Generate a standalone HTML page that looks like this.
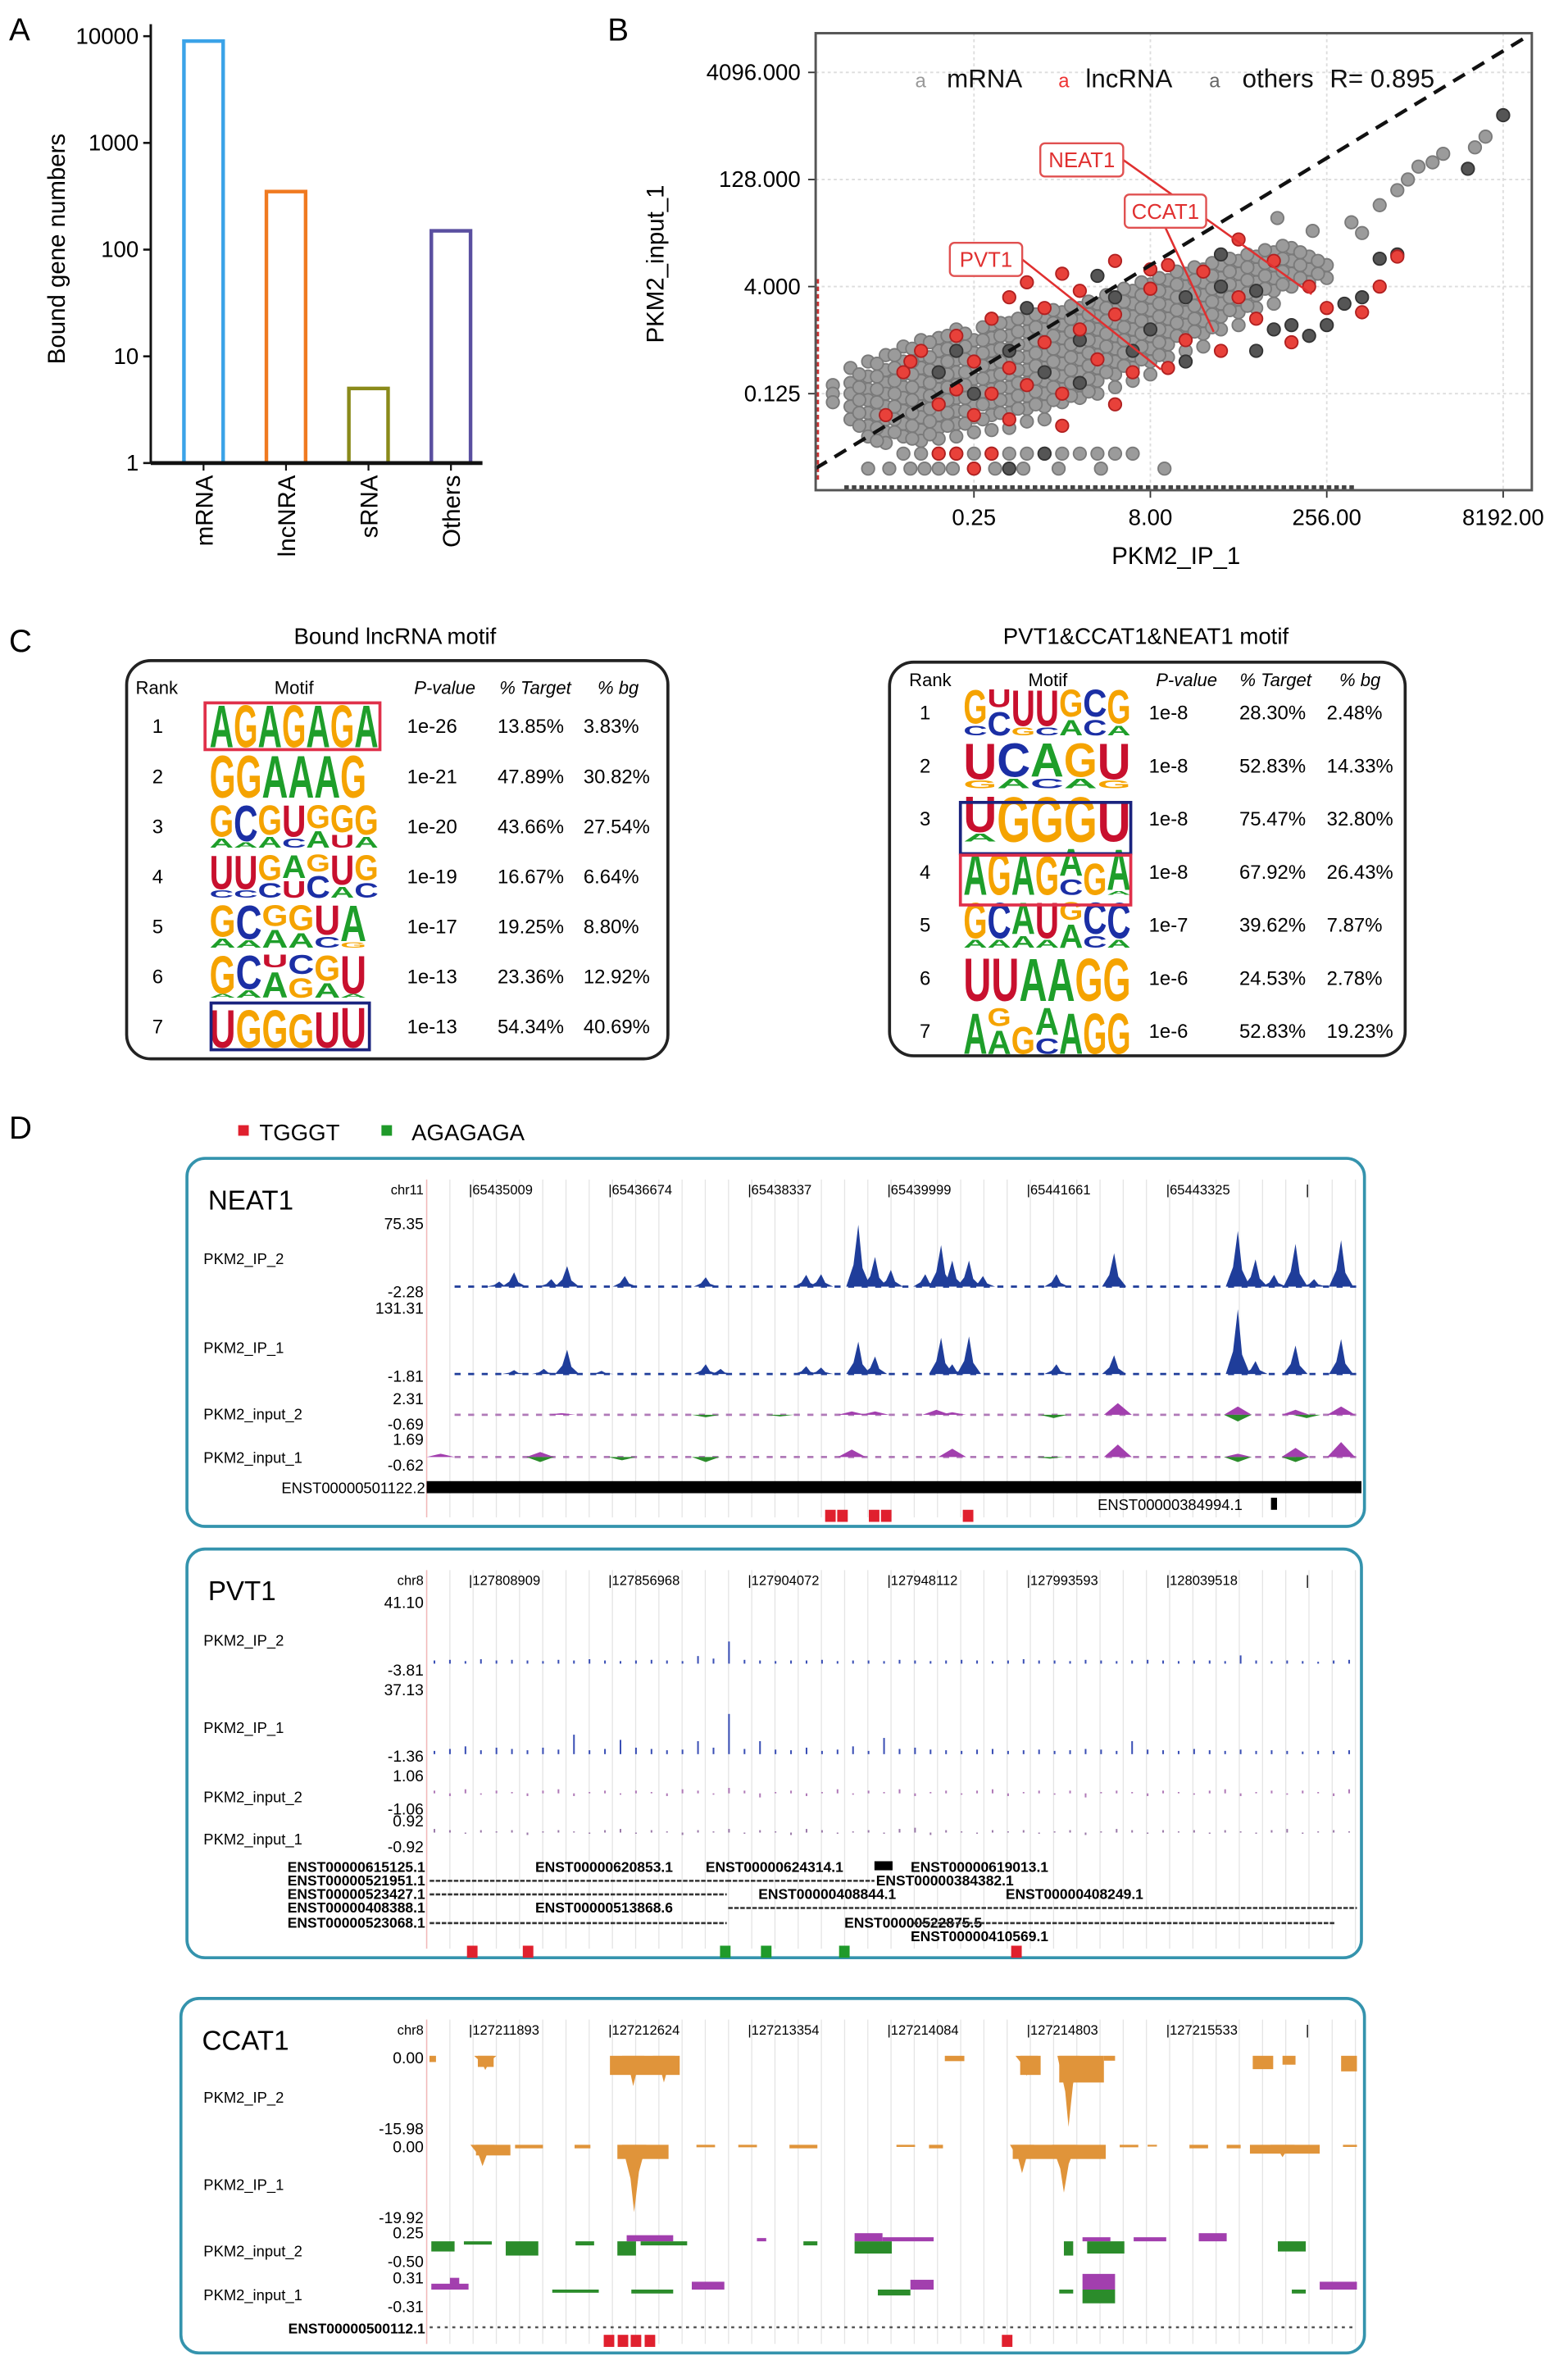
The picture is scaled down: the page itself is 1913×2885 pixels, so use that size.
<!DOCTYPE html>
<html><head><meta charset="utf-8">
<style>
html,body{margin:0;padding:0;background:#fff;}
svg{display:block;}
text{font-family:"Liberation Sans",sans-serif;}
.n{font-family:"Liberation Sans Narrow","Liberation Sans",sans-serif;}
</style></head>
<body>
<svg id="fig" xmlns="http://www.w3.org/2000/svg" width="1913" height="2885" viewBox="0 0 1040 1568" preserveAspectRatio="none">
<rect x="0" y="0" width="1040" height="1568" fill="#fff"/>
<text x="6" y="27" font-size="21">A</text>
<text x="403" y="27" font-size="21">B</text>
<text x="6" y="432" font-size="21">C</text>
<text x="6" y="755" font-size="21">D</text>

<g id="panelA">
<text transform="translate(43,165) rotate(-90)" text-anchor="middle" font-size="16">Bound gene numbers</text>
</g>

<g id="panelB">
<text transform="translate(440,175) rotate(-90)" text-anchor="middle" font-size="16">PKM2_input_1</text>
<text x="780" y="374" text-anchor="middle" font-size="16" class="n">PKM2_IP_1</text>
</g>

<g id="panelC">
<text x="262" y="427" text-anchor="middle" font-size="15" class="n">Bound lncRNA motif</text>
<text x="760" y="427" text-anchor="middle" font-size="15" class="n">PVT1&amp;CCAT1&amp;NEAT1 motif</text>
<rect x="84" y="438" width="359" height="264" rx="16" fill="none" stroke="#222" stroke-width="2"/>
<rect x="590" y="439" width="342" height="261" rx="16" fill="none" stroke="#222" stroke-width="2"/>
<g font-size="12" class="n">
<text x="104" y="460" text-anchor="middle">Rank</text>
<text x="195" y="460" text-anchor="middle">Motif</text>
<text x="295" y="460" text-anchor="middle" font-style="italic">P-value</text>
<text x="355" y="460" text-anchor="middle" font-style="italic">% Target</text>
<text x="410" y="460" text-anchor="middle" font-style="italic">% bg</text>
</g>
<g font-size="12" class="n">
<text x="617" y="455" text-anchor="middle">Rank</text>
<text x="695" y="455" text-anchor="middle">Motif</text>
<text x="787" y="455" text-anchor="middle" font-style="italic">P-value</text>
<text x="846" y="455" text-anchor="middle" font-style="italic">% Target</text>
<text x="902" y="455" text-anchor="middle" font-style="italic">% bg</text>
</g>
</g>

<g>
<rect x="158" y="746" width="7" height="7" fill="#e0202e"/>
<text x="172" y="756" font-size="15">TGGGT</text>
<rect x="253" y="746" width="7" height="7" fill="#1f9a2a"/>
<text x="273" y="756" font-size="15">AGAGAGA</text>
</g>
<g id="panelD"></g>
</svg>

<script>
const NS='http://www.w3.org/2000/svg';
const svg=document.getElementById('fig');
function el(tag,attrs,parent){const e=document.createElementNS(NS,tag);for(const k in attrs)e.setAttribute(k,attrs[k]);(parent||svg).appendChild(e);return e;}

/* ================= Panel A data ================= */
const barCats=['mRNA','lncNRA','sRNA','Others'];
const barVals=[9000,350,5,150];
const barColors=['#3ba3e8','#f07a20','#8a8a1a','#5a4fa0'];
const yTicksA=[1,10,100,1000,10000];
const yTickLabelsA=['1','10','100','1000','10000'];

/* ================= Panel B data (log2 values) ================= */
const xTicksB=[0.25,8,256,8192];
const xTickLabelsB=['0.25','8.00','256.00','8192.00'];
const yTicksB=[0.125,4,128,4096];
const yTickLabelsB=['0.125','4.000','128.000','4096.000'];
const grayCols=[
[-6.0,[-2.6,-3.0,-3.4]],
[-5.5,[-1.8,-2.5,-3.0,-3.6,-4.2]],
[-5.0,[-1.5,-2.2,-2.8,-3.3,-3.9,-4.5,-5.0]],
[-4.5,[-1.2,-1.9,-2.5,-3.0,-3.6,-4.2,-4.8,-5.3]],
[-4.0,[-0.8,-1.5,-2.1,-2.7,-3.2,-3.8,-4.4,-5.0]],
[-3.5,[-0.5,-1.2,-1.8,-2.4,-3.0,-3.6,-4.1,-4.7,-5.2]],
[-3.0,[-0.4,-1.0,-1.6,-2.2,-2.8,-3.4,-4.0,-4.6,-5.1]],
[-2.5,[0.0,-0.7,-1.4,-2.0,-2.6,-3.2,-3.8,-4.4,-5.0]],
[-2.0,[-0.5,-1.1,-1.7,-2.3,-2.9,-3.5,-4.1,-4.8]],
[-1.5,[0.2,-0.4,-1.0,-1.6,-2.2,-2.8,-3.4,-4.0,-4.7]],
[-1.0,[0.3,-0.3,-0.9,-1.5,-2.1,-2.7,-3.3,-3.9,-4.6]],
[-0.5,[0.5,-0.1,-0.7,-1.3,-1.9,-2.5,-3.1,-3.7,-4.3]],
[0.0,[0.6,0.0,-0.6,-1.2,-1.8,-2.4,-3.0,-3.6,-4.2]],
[0.5,[0.8,0.2,-0.4,-1.0,-1.6,-2.2,-2.8,-3.4]],
[1.0,[1.0,0.4,-0.2,-0.8,-1.4,-2.0,-2.6,-3.2]],
[1.5,[1.2,0.6,0.0,-0.6,-1.2,-1.8,-2.4,-3.0]],
[2.0,[1.5,0.9,0.3,-0.3,-0.9,-1.5,-2.1,-2.7]],
[2.5,[1.8,1.2,0.6,0.0,-0.6,-1.2,-1.8,-2.4]],
[3.0,[2.1,1.5,0.9,0.3,-0.3,-0.9,-1.5,-2.1]],
[3.5,[2.3,1.7,1.1,0.5,-0.1,-0.7,-1.3]],
[4.0,[2.6,2.0,1.4,0.8,0.2,-0.4,-1.0]],
[4.5,[2.8,2.2,1.6,1.0,0.4,-0.2,-0.8]],
[5.0,[3.0,2.4,1.8,1.2,0.6,0.0]],
[5.5,[3.2,2.6,2.0,1.4,0.8,0.2]],
[6.0,[3.4,2.8,2.2,1.6,1.0]],
[6.5,[3.6,3.0,2.4,1.8,1.2]],
[7.0,[3.8,3.2,2.6,2.0]],
[7.5,[3.4,2.8,2.2]],
[8.0,[3.0,2.4]]
];
const grayCols2=[
[-5.25,[-2.1,-2.7,-3.3,-3.9,-4.5]],
[-4.75,[-1.6,-2.2,-2.8,-3.4,-4.0,-4.6,-5.2]],
[-4.25,[-1.2,-1.8,-2.4,-3.0,-3.6,-4.2,-4.8]],
[-3.75,[-0.9,-1.5,-2.1,-2.7,-3.3,-3.9,-4.5,-5.1]],
[-3.25,[-0.6,-1.3,-1.9,-2.5,-3.1,-3.7,-4.3,-4.9]],
[-2.75,[-0.3,-0.9,-1.5,-2.1,-2.7,-3.3,-3.9,-4.5]],
[-2.25,[-0.2,-0.8,-1.4,-2.0,-2.6,-3.2,-3.8,-4.4]],
[-1.75,[0.1,-0.5,-1.1,-1.7,-2.3,-2.9,-3.5,-4.2]],
[-1.25,[0.3,-0.3,-0.9,-1.5,-2.1,-2.7,-3.3,-3.9]],
[-0.75,[0.5,-0.1,-0.7,-1.3,-1.9,-2.5,-3.1,-3.7]],
[-0.25,[0.7,0.1,-0.5,-1.1,-1.7,-2.3,-2.9,-3.5]],
[0.25,[0.9,0.3,-0.3,-0.9,-1.5,-2.1,-2.7,-3.3]],
[0.75,[1.1,0.5,-0.1,-0.7,-1.3,-1.9,-2.5,-3.1]],
[1.25,[1.3,0.7,0.1,-0.5,-1.1,-1.7,-2.3,-2.9]],
[1.75,[1.6,1.0,0.4,-0.2,-0.8,-1.4,-2.0]],
[2.25,[1.9,1.3,0.7,0.1,-0.5,-1.1,-1.7]],
[2.75,[2.2,1.6,1.0,0.4,-0.2,-0.8,-1.4]],
[3.25,[2.4,1.8,1.2,0.6,0.0,-0.6,-1.2]],
[3.75,[2.7,2.1,1.5,0.9,0.3,-0.3]],
[4.25,[2.9,2.3,1.7,1.1,0.5,-0.1]],
[4.75,[3.1,2.5,1.9,1.3,0.7,0.1]],
[5.25,[3.3,2.7,2.1,1.5,0.9]],
[5.75,[3.5,2.9,2.3,1.7,1.1]],
[6.25,[3.7,3.1,2.5,1.9]],
[6.75,[3.9,3.3,2.7,2.1]],
[7.25,[3.6,3.0,2.4]],
[7.75,[3.2,2.6]]
];
const grayRowLow=[-4,-3.5,-3,-2.5,-2,-1.5,-1,-0.5,0,0.5,1,1.5,2,2.5];
const grayRowLowest=[-5,-4.4,-3.8,-3.4,-3,-2.6,-2,-1.4,-0.6,0.4,1.6,3.4];
const grayOutX=[9.5,10,10.3,10.6,11,11.3,12.2,12.5,9,8.7,7.6,6.6];
const grayOutY=[5.8,6.5,7,7.6,7.8,8.2,8.5,9,4.5,5,4.6,5.2];
const redX=[-4,-3.5,-3,-2.5,-2.5,-2,-2,-1.5,-1.5,-1,-1,-0.5,-0.5,0,0,0.5,0.5,1,1,1.5,2,2,2.5,3,3.5,3.5,4,4.5,5,5.5,6,6.5,7,8,9,9.5,10,-3,-2.5,-2,-1.5,-4.5,-3.8,0.5,2,-1,3,5.5,7.5];
const redY=[-2,-1,-3.5,-0.3,-2.8,-1.5,-4,0.5,-3,1.5,-1.8,2.2,-2.6,1.0,-0.6,2.6,-3,0,1.8,-1.4,3.2,0.7,-2,1.9,3.0,-1.8,-0.5,2.7,-1.0,1.5,0.5,3.2,-0.6,1.0,0.8,2.0,3.4,-5.8,-5.8,-6.5,-5.8,-4,-1.5,-4.5,-3.5,-4.2,2.8,4.2,2];
const darkX=[-3,-2,-1,0,1,2,3,4,5,6,7,7.5,8,8.5,9,9.5,10,12,13,1.5,-2.5,-0.5,2.5,4,6,5,6.5,-1,0,1];
const darkY=[-2,-3,-1,-2,-0.5,1.5,0,1.5,2,1.8,0.2,-0.3,0.2,1.2,1.5,3.3,3.5,7.5,10,2.5,-1,1,-1,-1.5,-1,3.5,0,-6.5,-5.8,-2.5];

/* ================= Panel C data ================= */
const leftMotifs=['AGAGAGA','GGAAAG','GCGUGGG','UUGAGUG','GCGGUA','GCUCGU','UGGGUU'];
const leftSecond=['.......','......','AAACAUA','CCCUCAC','AAAACG','AAAGAA','......'];
const leftHeights=[[1,1,1,1,1,1,1],[1,1,1,1,1,1],[.75,.85,.7,.75,.55,.65,.7],[.8,.8,.6,.55,.4,.7,.6],[.75,.8,.5,.6,.7,.85],[.9,.8,.3,.45,.6,.9],[.9,.9,.9,.8,.85,.95]];
const leftP=['1e-26','1e-21','1e-20','1e-19','1e-17','1e-13','1e-13'];
const leftTarget=['13.85%','47.89%','43.66%','16.67%','19.25%','23.36%','54.34%'];
const leftBg=['3.83%','30.82%','27.54%','6.64%','8.80%','12.92%','40.69%'];
const rightMotifs=['GUUUGCG','UCAGU','UGGGU','AGAGAGA','GCAUGCC','UUAAGG','AGGAAGG'];
const rightSecond=['CCGCACA','GACAG','A....','....C.A','AAAAACA','......','.A.C...'];
const rightHeights=[[.75,.4,.8,.8,.6,.6,.75],[.8,.75,.75,.75,.8],[.8,1,1,1,.9],[.95,.95,.9,.85,.6,.7,.9],[.8,.8,.7,.8,.4,.7,.8],[.95,.95,.95,.95,.95,.95],[.9,.4,.6,.6,.9,.9,.9]];
const rightP=['1e-8','1e-8','1e-8','1e-8','1e-7','1e-6','1e-6'];
const rightTarget=['28.30%','52.83%','75.47%','67.92%','39.62%','24.53%','52.83%'];
const rightBg=['2.48%','14.33%','32.80%','26.43%','7.87%','2.78%','19.23%'];

/* ================= Panel D data ================= */
const neatIP2Pos=[7.8,9.4,13.4,15.1,21.3,30.0,40.8,42.4,46.4,48.2,49.9,53.6,55.3,56.5,58.3,59.8,67.7,73.9,87.2,89.1,91.1,93.4,95.4,98.3];
const neatIP2H=[.08,.23,.12,.33,.17,.15,.19,.2,1.0,.48,.27,.2,.67,.42,.42,.17,.2,.54,.9,.44,.19,.69,.12,.75];
const neatIP1Pos=[9.4,12.6,15.1,18.8,30,31.6,40.8,42.4,46.4,48.2,55.3,56.5,58.3,67.7,73.9,87.2,89.1,93.4,98.3];
const neatIP1H=[.06,.08,.375,.05,.15,.08,.12,.1,.5,.27,.56,.15,.58,.15,.29,1.0,.2,.44,.54];
const neatIn2Pos=[14.5,45.7,48.2,54.8,56.5,74.3,87.2,93.4,98.3,67.4,87.2,94.6,30,38];
const neatIn2V=[.1,.2,.2,.3,.15,.7,.5,.3,.5,-.2,-.4,-.2,-.15,-.1];
const neatIn1Pos=[1.5,12.2,12.2,21,30,45.7,56.5,67,74.3,87.2,93.4,98.3,93.4,87.2];
const neatIn1V=[.2,.3,-.3,-.2,-.3,.45,.5,-.1,.75,.2,.55,.9,-.3,-.3];
const neatMarkPos=[43.4,44.7,48.1,49.4,58.2];
const neatMarkType=['r','r','r','r','r'];

const pvtIP2=[.05,.06,.04,.07,.05,.06,.05,.04,.06,.05,.07,.05,.04,.05,.06,.05,.04,.12,.08,.35,.06,.05,.04,.05,.05,.06,.04,.05,.05,.04,.06,.05,.04,.05,.06,.05,.04,.05,.07,.05,.05,.04,.06,.05,.04,.05,.06,.05,.04,.05,.05,.04,.13,.05,.04,.05,.04,.03,.05,.06];
const pvtIP1=[.05,.08,.12,.06,.1,.08,.06,.1,.07,.3,.06,.08,.22,.1,.08,.06,.07,.2,.1,.62,.08,.2,.07,.06,.1,.05,.07,.12,.05,.25,.08,.1,.07,.06,.05,.07,.08,.05,.06,.07,.05,.06,.08,.07,.05,.2,.07,.06,.05,.08,.06,.05,.07,.05,.06,.05,.04,.05,.05,.06];
const pvtIn2=[.2,-.2,.3,-.1,.2,.1,-.2,.2,.3,-.2,.1,.2,-.1,.2,.1,-.2,.3,.2,-.1,.4,.2,-.3,.1,.2,-.2,.1,.3,-.1,.2,.1,.3,-.2,.1,.2,-.1,.2,.3,-.2,.1,.2,-.1,.2,-.3,.1,.2,.1,-.2,.2,.1,-.1,.2,.3,-.2,.1,.2,-.1,.2,.1,-.2,.3];
const pvtIn1=[.3,.2,-.1,.2,.1,.2,-.2,.1,.2,.1,-.1,.2,.3,-.1,.2,.1,-.2,.2,.1,.3,-.1,.2,.1,-.2,.3,.2,-.1,.1,.2,-.1,.3,.4,-.2,.2,.1,-.1,.2,.1,.2,-.1,.1,.2,-.2,.1,.3,.2,-.1,.2,.1,.2,-.1,.2,.1,-.1,.2,.3,-.1,.1,.2,.1];
const pvtMarkPos=[4.9,10.9,63.4,32.1,36.5,44.9];
const pvtMarkType=['r','r','r','g','g','g'];

const ccIP2SegS=[0.3,5.5,19.7,55.7,63.8,68,72.8,88.8,92,98.3];
const ccIP2SegE=[1,7.2,27.2,57.8,66,72.8,74,91,93.4,100];
const ccIP2SegD=[1.4,2.5,4.3,1.2,4.3,6,1.1,3,2,3.5];
const ccIP2PkPos=[6.3,22.2,25.5,69,64.5];
const ccIP2PkD=[3.2,6.8,6,16,4.5];
const ccIP1SegS=[5.3,9.5,15.9,20.5,29,33.5,39,50.5,54,63,68,74.5,77.5,82,86,88.5,98.5];
const ccIP1SegE=[9,12.5,17.6,26,31,35.5,42,52.5,55.5,68,73,76.5,78.5,84,87.5,96,100];
const ccIP1SegD=[3,1,1,4,0.7,0.7,1,0.6,1,4,4,0.7,0.5,1,1,2.5,0.6];
const ccIP1PkPos=[6,22.3,64,68.5,92];
const ccIP1PkD=[6,19,8,13.5,3.5];
const ccIn2S=[0.5,4,8.5,16,20.5,23,40.5,46,68.5,71,91.5,21.5,35.5,46,49,70.5,76,83];
const ccIn2E=[3,7,12,18,22.5,28,42,50,69.5,75,94.5,26.5,36.5,49,54.5,73.5,79.5,86];
const ccIn2V=[-.25,-.08,-.35,-.1,-.35,-.1,-.1,-.3,-.35,-.3,-.25,.15,.08,.2,.1,.1,.1,.2];
const ccIn1S=[0.5,2.5,28.5,52,70.5,96,13.5,22,48.5,68,70.5,93];
const ccIn1E=[4.5,3.5,32,54.5,74,100,18.5,26.5,52,69.5,74,94.5];
const ccIn1V=[.15,.3,.2,.25,.4,.2,-.08,-.1,-.15,-.1,-.35,-.1];
const ccMarkPos=[19.6,21.1,22.5,24.0,62.4];
const ccMarkType=['r','r','r','r','r'];

/* ================= Panel A drawing ================= */
const gA=document.getElementById('panelA');
const yA=v=>307-Math.log10(v)*70.75;
const xA=i=>135+i*54.7;
{
const ax=el('line',{x1:100,y1:16,x2:100,y2:307,stroke:'#111','stroke-width':1.6},gA);


yTicksA.forEach((v,i)=>{
  const t=el('line',{x1:95,x2:100,y1:yA(v),y2:yA(v),stroke:'#111','stroke-width':1.4},gA);
  
  
  const l=el('text',{x:92,y:yA(v)+5,'text-anchor':'end','font-size':15,class:'n'},gA);
  l.textContent=yTickLabelsA[i];
  
  
});
barVals.forEach((v,i)=>{
  const c=xA(i);
  const r=el('rect',{x:c-13,y:yA(v),width:26,height:307-yA(v),fill:'#fff',stroke:barColors[i],'stroke-width':2.4},gA);
  
  
  const tk=el('line',{x1:c,x2:c,y1:307,y2:312,stroke:'#111','stroke-width':1.2},gA);
  
  
  const l=el('text',{transform:`translate(${c+6},315) rotate(-90)`,'text-anchor':'end','font-size':16},gA);
  l.textContent=barCats[i];
  
  
});
const base=el('line',{x1:100,y1:307,x2:320,y2:307,stroke:'#111','stroke-width':2.6},gA);


}

/* ================= Panel B drawing ================= */
const gB=document.getElementById('panelB');
const xB=l=>646+(l+2)*23.4;
const yB=l=>261-(l+3)*14.2;
{
const defs=el('defs',{},gB);
const cp=el('clipPath',{id:'clipB'},defs);
el('rect',{x:541,y:22,width:475,height:303},cp);
xTicksB.forEach((v,i)=>{
  const l2=Math.log2(v);
  const g=el('line',{x1:xB(l2),x2:xB(l2),y1:22,y2:325,stroke:'#ddd','stroke-width':1,'stroke-dasharray':'2,2'},gB);
  
  
  const t=el('line',{x1:xB(l2),x2:xB(l2),y1:325,y2:330,stroke:'#333'},gB);
  
  
  const tx=el('text',{x:xB(l2),y:348,'text-anchor':'middle','font-size':15,class:'n'},gB);
  tx.textContent=xTickLabelsB[i];
  
  
});
yTicksB.forEach((v,i)=>{
  const l2=Math.log2(v);
  const g=el('line',{x1:541,x2:1016,y1:yB(l2),y2:yB(l2),stroke:'#ddd','stroke-width':1,'stroke-dasharray':'2,2'},gB);
  
  
  const t=el('line',{x1:536,x2:541,y1:yB(l2),y2:yB(l2),stroke:'#333'},gB);
  
  
  const tx=el('text',{x:531,y:yB(l2)+5,'text-anchor':'end','font-size':15,class:'n'},gB);
  tx.textContent=yTickLabelsB[i];
  
  
});
const pts=el('g',{'clip-path':'url(#clipB)'},gB);


function dot(lx,ly,fill,stroke,name){
  const c=el('circle',{cx:xB(lx),cy:yB(ly),r:4.2,fill:fill,stroke:stroke,'stroke-width':1},pts);
  
  
}
grayCols.forEach(col=>col[1].forEach(ly=>dot(col[0],ly,'#9b9b9b','#7a7a7a','point-mrna')));
grayCols2.forEach(col=>col[1].forEach(ly=>dot(col[0],ly,'#9b9b9b','#7a7a7a','point-mrna')));
grayRowLow.forEach(lx=>dot(lx,-5.8,'#9b9b9b','#7a7a7a','point-mrna'));
grayRowLowest.forEach(lx=>dot(lx,-6.5,'#9b9b9b','#7a7a7a','point-mrna'));
grayOutX.forEach((lx,i)=>dot(lx,grayOutY[i],'#9b9b9b','#7a7a7a','point-mrna'));
darkX.forEach((lx,i)=>dot(lx,darkY[i],'#555','#333','point-others'));
redX.forEach((lx,i)=>dot(lx,redY[i],'#e8413a','#b02020','point-lncrna'));
const rugL=el('line',{x1:542,x2:542,y1:185,y2:320,stroke:'#c33','stroke-width':2.5,'stroke-dasharray':'3,2'},gB);


const rugB=el('line',{x1:560,x2:900,y1:323,y2:323,stroke:'#444','stroke-width':2.5,'stroke-dasharray':'3,2'},gB);


const diag=el('line',{x1:xB(-6.5),y1:yB(-6.5),x2:xB(13.8),y2:yB(13.8),stroke:'#111','stroke-width':2.4,'stroke-dasharray':'9,6'},gB);


const frame=el('rect',{x:541,y:22,width:475,height:303,fill:'none',stroke:'#555','stroke-width':1.6},gB);


const leg=[['a',607,'#999'],['mRNA',628,'#111'],['a',702,'#e33'],['lncRNA',720,'#111'],['a',802,'#666'],['others',824,'#111'],['R= 0.895',882,'#111']];
leg.forEach(d=>{
  const t=el('text',{x:d[1],y:58,'font-size':d[0]==='a'?13:17,fill:d[2],class:'n'},gB);
  t.textContent=d[0];
  
  
});
const anns=[['NEAT1',690,95,55,745,106,870,195],['CCAT1',746,129,54,773,151,805,220],['PVT1',630,161,48,678,172,770,245]];
anns.forEach(a=>{
  const ln=el('line',{x1:a[4],y1:a[5],x2:a[6],y2:a[7],stroke:'#e03030','stroke-width':1.4},gB);
  
  
  const r=el('rect',{x:a[1],y:a[2],width:a[3],height:22,rx:3,fill:'#fff',stroke:'#e05050','stroke-width':1.3},gB);
  
  
  const t=el('text',{x:a[1]+a[3]/2,y:a[2]+16,'text-anchor':'middle','font-size':14,fill:'#e03030',class:'n'},gB);
  t.textContent=a[0];
  
  
});
}

/* ================= Panel C drawing ================= */
const gC=document.getElementById('panelC');
const colorOf={A:'#1e9e2a',C:'#1b2fa5',G:'#f5a300',U:'#c8102e'};
function logo(motif,second,heights,x0,yc,W,H){
  const n=motif.length,w=W/n,bot=yc+H/2;
  const g=el('g',{},gC);
  
  
  for(let i=0;i<n;i++){
    const h=heights[i]*H;
    const s=second[i];
    let mainBot=bot;
    if(s!=='.'&&heights[i]<1){
      const sh=(H-h)*0.85;
      const st=el('text',{transform:`translate(${x0+i*w},${bot}) scale(1,${sh/14.4})`,'font-size':20,'font-weight':'bold',fill:colorOf[s],textLength:w,lengthAdjust:'spacingAndGlyphs'},g);
      st.textContent=s;
      
      
      mainBot=bot-(H-h);
    }
    const t=el('text',{transform:`translate(${x0+i*w},${mainBot}) scale(1,${h/14.6})`,'font-size':20,'font-weight':'bold',fill:colorOf[motif[i]],textLength:w,lengthAdjust:'spacingAndGlyphs'},g);
    t.textContent=motif[i];
    
    
  }
}
function rowText(txt,x,y,name){
  const t=el('text',{x:x,y:y,'font-size':13,class:'n'},gC);
  t.textContent=txt;
  
  
}
leftMotifs.forEach((m,i)=>{
  const yc=481+i*33.2;
  rowText(String(i+1),101,yc+5,'rank');
  const W=m.length===7?112:104;
  logo(m,leftSecond[i],leftHeights[i],139,yc,W,29);
  rowText(leftP[i],270,yc+5,'p-value');
  rowText(leftTarget[i],330,yc+5,'pct-target');
  rowText(leftBg[i],387,yc+5,'pct-bg');
});
rightMotifs.forEach((m,i)=>{
  const yc=472+i*35.2;
  rowText(String(i+1),610,yc+5,'rank');
  logo(m,rightSecond[i],rightHeights[i],639,yc,111,31);
  rowText(rightP[i],762,yc+5,'p-value');
  rowText(rightTarget[i],822,yc+5,'pct-target');
  rowText(rightBg[i],880,yc+5,'pct-bg');
});
{
const hb=[[136,466,116,31,'#e0304a','highlight-agagaga-left'],[140,665,105,31,'#1a237e','highlight-ugggu-left'],[637,532,113,34,'#1a237e','highlight-ugggu-right'],[637,567,113,33,'#e0304a','highlight-agagaga-right']];
hb.forEach(b=>{
  const r=el('rect',{x:b[0],y:b[1],width:b[2],height:b[3],fill:'none',stroke:b[4],'stroke-width':2},gC);
  
  
});
}

/* ================= Panel D drawing ================= */
const gD=document.getElementById('panelD');
const fx=f=>283+f*6.17;
function txt(s,x,y,size,anchor,name,extra){
  const t=el('text',Object.assign({x:x,y:y,'font-size':size,'text-anchor':anchor||'start',class:'n'},extra||{}),gD);
  t.textContent=s;
  
  
  return t;
}
function panelFrame(name,x,y,w,h,title,chr,ticks){
  for(let k=0;k<41;k++){
    const gl=el('line',{x1:283+k*15.4,x2:283+k*15.4,y1:y+14,y2:y+h-6,stroke:'#e4e4e4','stroke-width':0.7},gD);
    
    
  }
  const lv=el('line',{x1:283,x2:283,y1:y+14,y2:y+h-6,stroke:'#f2b8b8','stroke-width':0.8},gD);
  
  
  const r=el('rect',{x:x,y:y,width:w,height:h,rx:12,fill:'none',stroke:'#3493ad','stroke-width':2},gD);
  
  
  txt(title,x+14,y+34,18,'start',name+'-title',{class:''});
  txt(chr,281,y+24,9,'end','chrom-label');
  ticks.forEach((t,i)=>txt('|'+t,311+i*92.5,y+24,9,'start','coord-tick'));
}
function trackLabels(labels){
  labels.forEach(l=>{
    txt(l[0],135,l[1],10,'start','track-label');
    txt(l[2],281,l[3],10.5,'end','track-max');
    txt(l[4],281,l[5],10.5,'end','track-min');
  });
}
function peaks(pos,h,base,H,w,color,name){
  pos.forEach((p,i)=>{
    const ht=h[i]*H;
    const pts=[[fx(p-w),base],[fx(p-w*0.4),base-ht*0.35],[fx(p),base-ht],[fx(p+w*0.35),base-ht*0.3],[fx(p+w),base]].map(q=>q.join(',')).join(' ');
    const pg=el('polygon',{points:pts,fill:color},gD);
    
    
  });
}
function signedBumps(pos,v,base,H,w,name){
  pos.forEach((p,i)=>{
    const hv=v[i]*H;
    const pts=[[fx(p-w),base],[fx(p-w*0.3),base-hv*0.7],[fx(p),base-hv],[fx(p+w*0.3),base-hv*0.7],[fx(p+w),base]].map(q=>q.join(',')).join(' ');
    const pg=el('polygon',{points:pts,fill:v[i]>=0?'#a23fae':'#2b8c2b'},gD);
    
    
  });
}
function baseline(base,color,name){
  const l=el('line',{x1:fx(3),x2:fx(100),y1:base,y2:base,stroke:color,'stroke-width':1.5,'stroke-dasharray':'4,5'},gD);
  
  
}
function markers(pos,type,y){
  pos.forEach((p,i)=>{
    const r=el('rect',{x:fx(p)-3.5,y:y,width:7,height:8,fill:type[i]==='r'?'#e0202e':'#1f9a2a'},gD);
    
    
  });
}
function spikes(arr,base,H,color,name){
  arr.forEach((v,i)=>{
    const x=fx((i+0.5)*100/arr.length);
    const l=el('line',{x1:x,x2:x,y1:base,y2:base-v*H,stroke:color,'stroke-width':1.1},gD);
    
    
  });
}
function segs(S,E,D,base,scale,color,name){
  S.forEach((s,i)=>{
    const d=D[i]*scale;
    const r=el('rect',{x:fx(s),y:d>=0?base:base+d,width:fx(E[i])-fx(s),height:Math.abs(d),fill:color},gD);
    
    
  });
}
function signedSegs(S,E,V,base,scale,name){
  S.forEach((s,i)=>{
    const d=V[i]*scale;
    const r=el('rect',{x:fx(s),y:d>=0?base-d:base,width:fx(E[i])-fx(s),height:Math.max(1.5,Math.abs(d)),fill:V[i]>=0?'#a23fae':'#2b8c2b'},gD);
    
    
  });
}
function downPeaks(P,D,base,scale,w,color,name){
  P.forEach((p,i)=>{
    const d=D[i]*scale;
    const pts=[[fx(p-w),base],[fx(p-w*0.3),base+d*0.5],[fx(p),base+d],[fx(p+w*0.4),base+d*0.4],[fx(p+w),base]].map(q=>q.join(',')).join(' ');
    const pg=el('polygon',{points:pts,fill:color},gD);
    
    
  });
}

/* NEAT1 */
panelFrame('neat1',124,768,781,244,'NEAT1','chr11',['65435009','65436674','65438337','65439999','65441661','65443325','']);
trackLabels([['PKM2_IP_2',838,'75.35',815,'-2.28',860],['PKM2_IP_1',897,'131.31',871,'-1.81',916],['PKM2_input_2',941,'2.31',931,'-0.69',948],['PKM2_input_1',970,'1.69',958,'-0.62',975]]);
baseline(853,'#1f3d9a','neat1-ip2-baseline');
peaks(neatIP2Pos,neatIP2H,853,41,1.3,'#1f3d9a','neat1-ip2-peak');
baseline(911,'#1f3d9a','neat1-ip1-baseline');
peaks(neatIP1Pos,neatIP1H,911,43,1.3,'#1f3d9a','neat1-ip1-peak');
baseline(938,'#b07ab8','neat1-input2-baseline');
signedBumps(neatIn2Pos,neatIn2V,938,11,1.5,'neat1-input2-bump');
baseline(966,'#b07ab8','neat1-input1-baseline');
signedBumps(neatIn1Pos,neatIn1V,966,11,1.5,'neat1-input1-bump');
{
const gb=el('rect',{x:283,y:982,width:620,height:8,fill:'#000'},gD);


txt('ENST00000501122.2',282,990,10,'end','gene-label');
txt('ENST00000384994.1',728,1001,10,'start','gene-label');
const sb=el('rect',{x:843,y:993,width:4,height:8,fill:'#000'},gD);


}
markers(neatMarkPos,neatMarkType,1001);

/* PVT1 */
panelFrame('pvt1',124,1027,779,271,'PVT1','chr8',['127808909','127856968','127904072','127948112','127993593','128039518','']);
trackLabels([['PKM2_IP_2',1091,'41.10',1066,'-3.81',1111],['PKM2_IP_1',1149,'37.13',1124,'-1.36',1168],['PKM2_input_2',1195,'1.06',1181,'-1.06',1203],['PKM2_input_1',1223,'0.92',1211,'-0.92',1228]]);
spikes(pvtIP2,1103,42,'#3a4fb5','pvt1-ip2-spike');
spikes(pvtIP1,1163,43,'#3a4fb5','pvt1-ip1-spike');
spikes(pvtIn2,1189,9,'#b07ab8','pvt1-input2-spike');
spikes(pvtIn1,1215,8,'#9a7aa8','pvt1-input1-spike');
{
const gl=[['ENST00000615125.1',1241],['ENST00000521951.1',1250],['ENST00000523427.1',1259],['ENST00000408388.1',1268],['ENST00000523068.1',1278]];
gl.forEach(g=>txt(g[0],282,g[1],9.5,'end','gene-label',{'font-weight':'bold'}));
const other=[['ENST00000620853.1',355,1241],['ENST00000624314.1',468,1241],['ENST00000619013.1',604,1241],['ENST00000384382.1',581,1250],['ENST00000408844.1',503,1259],['ENST00000408249.1',667,1259],['ENST00000513868.6',355,1268],['ENST00000522875.5',560,1278],['ENST00000410569.1',604,1287]];
other.forEach(g=>txt(g[0],g[1],g[2],9.5,'start','gene-label',{'font-weight':'bold'}));
const lines=[[285,482,1247],[482,580,1247],[285,482,1256],[483,900,1265],[285,482,1275],[606,885,1275]];
lines.forEach(l=>{
  const ln=el('line',{x1:l[0],x2:l[1],y1:l[2],y2:l[2],stroke:'#333','stroke-width':1.4,'stroke-dasharray':'3,1'},gD);
  
  
});
const blk=el('rect',{x:580,y:1234,width:12,height:6,fill:'#000'},gD);


}
markers(pvtMarkPos,pvtMarkType,1290);

/* CCAT1 */
panelFrame('ccat1',120,1325,785,235,'CCAT1','chr8',['127211893','127212624','127213354','127214084','127214803','127215533','']);
trackLabels([['PKM2_IP_2',1394,'0.00',1368,'-15.98',1415],['PKM2_IP_1',1452,'0.00',1427,'-19.92',1474],['PKM2_input_2',1496,'0.25',1484,'-0.50',1503],['PKM2_input_1',1525,'0.31',1514,'-0.31',1533]]);
segs(ccIP2SegS,ccIP2SegE,ccIP2SegD.map(d=>-d),1363,-2.95,'#e0943a','ccat1-ip2-bar');
downPeaks(ccIP2PkPos,ccIP2PkD,1363,2.95,1.2,'#e0943a','ccat1-ip2-peak');
segs(ccIP1SegS,ccIP1SegE,ccIP1SegD.map(d=>-d),1422,-2.35,'#e0943a','ccat1-ip1-bar');
downPeaks(ccIP1PkPos,ccIP1PkD,1422,2.35,1.3,'#e0943a','ccat1-ip1-peak');
signedSegs(ccIn2S,ccIn2E,ccIn2V,1486,27,'ccat1-input2-bar');
signedSegs(ccIn1S,ccIn1E,ccIn1V,1518,26,'ccat1-input1-bar');
{
txt('ENST00000500112.1',282,1547,9.5,'end','gene-label',{'font-weight':'bold'});
const ln=el('line',{x1:285,x2:900,y1:1543,y2:1543,stroke:'#555','stroke-width':1.4,'stroke-dasharray':'2,3'},gD);


}
markers(ccMarkPos,ccMarkType,1548);
</script>
</body></html>
